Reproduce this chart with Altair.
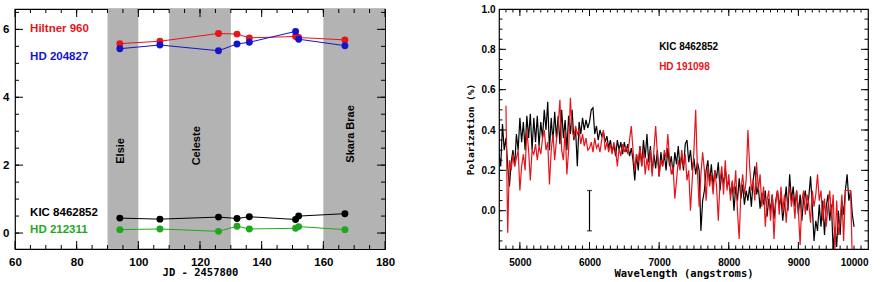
import altair as alt
import numpy as np
import pandas as pd

# ---------------- left panel: polarization monitoring vs. date ----------------
jd = [94, 107, 126, 132, 136, 151, 152, 167]
hiltner960 = [5.58, 5.65, 5.88, 5.86, 5.75, 5.79, 5.76, 5.69]
hd204827 = [5.43, 5.54, 5.37, 5.57, 5.62, 5.94, 5.71, 5.52]
kic8462852 = [0.44, 0.41, 0.47, 0.43, 0.48, 0.40, 0.50, 0.57]
hd212311 = [0.10, 0.12, 0.05, 0.20, 0.12, 0.14, 0.19, 0.10]

star_names = ["Hiltner 960", "HD 204827", "KIC 8462852", "HD 212311"]
star_colors = ["#e8141b", "#1414cc", "#000000", "#1fa81f"]

dip_names = ["Elsie", "Celeste", "Skara Brae"]
dip_start = [90, 110, 160]
dip_end = [100, 130, 180]

# ---------------- right panel: spectropolarimetry ----------------
kic_wave0, kic_step = 4700, 25
kic_pol = [
    0.28, 0.22, 0.43, 0.30, 0.36, 0.22, 0.12, 0.24, 0.30, 0.22, 0.38, 0.30,
    0.46, 0.34, 0.44, 0.30, 0.47, 0.36, 0.48, 0.30, 0.46, 0.34, 0.47, 0.32,
    0.44, 0.36, 0.50, 0.40, 0.54, 0.30, 0.46, 0.34, 0.49, 0.36, 0.47, 0.33,
    0.50, 0.36, 0.45, 0.30, 0.47, 0.38, 0.50, 0.35, 0.40, 0.22, 0.44, 0.38,
    0.46, 0.40, 0.45, 0.41, 0.44, 0.50, 0.51, 0.38, 0.42, 0.35, 0.40, 0.37,
    0.39, 0.34, 0.37, 0.31, 0.35, 0.29, 0.33, 0.27, 0.35, 0.30, 0.34, 0.28,
    0.34, 0.29, 0.33, 0.27, 0.31, 0.25, 0.15, 0.28, 0.20, 0.32, 0.22, 0.35,
    0.26, 0.38, 0.24, 0.32, 0.19, 0.28, 0.21, 0.30, 0.17, 0.29, 0.22, 0.28,
    0.20, 0.31, 0.22, 0.27, 0.18, 0.29, 0.23, 0.32, 0.21, 0.28, 0.20, 0.33,
    0.35, 0.24, 0.30, 0.20, 0.26, 0.18, 0.24, 0.20, -0.10, 0.05, 0.10, 0.20,
    0.25, 0.14, 0.23, 0.12, 0.20, 0.16, 0.24, 0.10, 0.19, 0.13, 0.21, 0.12,
    0.15, 0.08, 0.14, 0.00, 0.12, 0.05, 0.16, 0.06, 0.13, 0.03, 0.10, 0.05,
    0.12, 0.02, 0.15, 0.22, 0.08, 0.12, 0.01, 0.09, 0.03, 0.10, -0.03, 0.06,
    0.00, 0.08, -0.04, 0.05, 0.10, 0.02, 0.07, -0.05, 0.03, 0.12, 0.00, 0.18,
    0.05, 0.12, 0.02, 0.10, -0.02, 0.08, -0.05, 0.06, 0.10, 0.00, 0.07, 0.17,
    0.02, -0.15, -0.05, -0.10, 0.03, -0.08, 0.05, -0.12, 0.02, 0.08, -0.05, 0.03,
    -0.20, -0.08, -0.18, 0.00, -0.12, 0.05, -0.02, 0.10, 0.18, 0.05, 0.10, -0.02,
    -0.08,
]
hd191098_wave0, hd191098_step = 4800, 25
hd191098_pol = [
    0.52, -0.11, 0.25, 0.20, 0.28, 0.22, 0.26, 0.30, 0.10, 0.22, 0.28, 0.20,
    0.40, 0.30, 0.15, 0.30, 0.28, 0.33, 0.25, 0.32, 0.28, 0.36, 0.40, 0.30,
    0.34, 0.13, 0.30, 0.38, 0.25, 0.35, 0.42, 0.55, 0.30, 0.25, 0.40, 0.18,
    0.30, 0.56, 0.40, 0.36, 0.42, 0.38, 0.40, 0.33, 0.38, 0.32, 0.36, 0.30,
    0.31, 0.34, 0.29, 0.36, 0.31, 0.33, 0.29, 0.35, 0.40, 0.30, 0.34, 0.29,
    0.33, 0.28, 0.34, 0.30, 0.22, 0.31, 0.27, 0.33, 0.29, 0.32, 0.28, 0.35,
    0.42, 0.30, 0.20, 0.28, 0.24, 0.32, 0.22, 0.30, 0.18, 0.26, 0.20, 0.30,
    0.17, 0.30, 0.42, 0.28, 0.17, 0.25, 0.22, 0.30, 0.26, 0.38, 0.25, 0.18,
    0.22, 0.06, 0.15, 0.25, 0.20, 0.30, 0.22, 0.28, 0.15, 0.20, 0.00, 0.15,
    0.30, 0.50, 0.20, 0.02, 0.18, 0.29, 0.20, 0.05, 0.22, 0.12, 0.18, 0.08,
    0.20, 0.12, -0.05, 0.15, 0.22, 0.08, 0.25, 0.10, 0.18, 0.05, 0.15, 0.08,
    0.20, 0.00, -0.14, 0.10, 0.18, 0.08, 0.15, 0.40, 0.22, 0.10, 0.15, 0.05,
    0.24, 0.10, 0.18, 0.02, 0.12, -0.08, 0.05, 0.10, -0.05, 0.08, -0.14, 0.04,
    0.10, -0.02, 0.12, 0.00, 0.08, -0.06, 0.06, 0.12, 0.02, 0.08, -0.04, 0.10,
    0.00, -0.17, 0.05, 0.10, -0.02, 0.08, 0.03, -0.06, 0.10, 0.02, 0.08, 0.18,
    0.05, 0.10, -0.05, 0.06, -0.08, 0.02, 0.10, -0.03, 0.08, -0.20, 0.05, -0.12,
    -0.05, 0.08, -0.15, 0.10, 0.10, 0.10, 0.10, -0.25,
]
spec_names = ["KIC 8462852", "HD 191098"]
spec_colors = ["#000000", "#ee1111"]

# typical uncertainty bar
err_wave = [6000]
err_center = [0.0]
err_half = [0.1]

GRAY = "#b3b3b3"
LW, RW, H = 370, 369, 240
X1_DOM, Y1_DOM = [60, 180], [-0.47, 6.6]
# upper limit padded by a hair so the 10000 tick survives float rounding
X2_DOM, Y2_DOM = [4700, 10000.02], [-0.19, 1.0]

xs1 = alt.Scale(domain=X1_DOM, nice=False, zero=False)
ys1 = alt.Scale(domain=Y1_DOM, nice=False, zero=False)
xs2 = alt.Scale(domain=X2_DOM, nice=False, zero=False)
ys2 = alt.Scale(domain=Y2_DOM, nice=False, zero=False)

x1_axis = alt.Axis(values=[60, 80, 100, 120, 140, 160, 180], labelPadding=7, labelFontSize=11.5,
                   title="JD - 2457800", titlePadding=0, labelFlush=False, labelOverlap=False)
y1_axis = alt.Axis(values=[0, 2, 4, 6], labelPadding=6, labelFontSize=11.5, title=None)
x2_axis = alt.Axis(values=[5000, 6000, 7000, 8000, 9000, 10000], labelPadding=8,
                   labelExpr="replace(datum.label, ',', '')",
                   title="Wavelength (angstroms)", titlePadding=1, labelFlush=True,
                   labelOverlap=False, labelBound=False)
y2_axis = alt.Axis(values=[0.0, 0.2, 0.4, 0.6, 0.8, 1.0], format=".1f", labelPadding=4,
                   title="Polarization (%)", titlePadding=6, titleFontSize=9.5)


def inward_ticks(values, chan, length, scale, axis, W):
    """Tick marks drawn inside the frame on both opposite sides."""
    df = pd.DataFrame({"t": values})
    base = alt.Chart(df).mark_rule(color="black", strokeWidth=1)
    if chan == "x":
        enc = alt.X("t:Q", scale=scale, axis=axis)
        a = base.encode(x=enc, y=alt.value(0), y2=alt.value(length))
        b = base.encode(x=enc, y=alt.value(H), y2=alt.value(H - length))
    else:
        enc = alt.Y("t:Q", scale=scale, axis=axis)
        a = base.encode(y=enc, x=alt.value(0), x2=alt.value(length))
        b = base.encode(y=enc, x=alt.value(W), x2=alt.value(W - length))
    return [a, b]


def inside(vals, dom):
    return [v for v in vals if dom[0] < v < dom[1] - 0.5]


# ---------- left chart ----------
rows = []
for name, ys in zip(star_names, [hiltner960, hd204827, kic8462852, hd212311]):
    for t, v in zip(jd, ys):
        rows.append({"jd": t, "pol": v, "star": name})
mon = pd.DataFrame(rows)
cs1 = alt.Scale(domain=star_names, range=star_colors)

X1 = lambda f: alt.X(f, scale=xs1, axis=x1_axis)
Y1 = lambda f: alt.Y(f, scale=ys1, axis=y1_axis)

bands = alt.Chart(pd.DataFrame({"name": dip_names, "start": dip_start, "end": dip_end})).mark_rect(
    color=GRAY
).encode(x=X1("start:Q"), x2="end:Q", y=alt.value(0), y2=alt.value(H))

band_label_pos = pd.DataFrame({"name": dip_names, "x": [94.5, 119, 169], "y": [2.42, 2.57, 2.92]})
band_labels = alt.Chart(band_label_pos).mark_text(
    angle=270, font="Liberation Sans", fontWeight="bold", fontSize=11, color="black"
).encode(x=X1("x:Q"), y=Y1("y:Q"), text="name:N")

mon_lines = alt.Chart(mon).mark_line(strokeWidth=1).encode(
    x=X1("jd:Q"), y=Y1("pol:Q"),
    color=alt.Color("star:N", scale=cs1, legend=None), detail="star:N",
)
mon_pts = alt.Chart(mon).mark_circle(size=48, opacity=1).encode(
    x=X1("jd:Q"), y=Y1("pol:Q"),
    color=alt.Color("star:N", scale=cs1, legend=None),
)

star_label_pos = pd.DataFrame({"star": star_names, "x": [64.9] * 4, "y": [6.0, 5.2, 0.59, 0.08]})
star_labels = alt.Chart(star_label_pos).mark_text(
    align="left", baseline="middle", font="Liberation Sans", fontWeight="bold", fontSize=11.5
).encode(
    x=X1("x:Q"), y=Y1("y:Q"), text="star:N",
    color=alt.Color("star:N", scale=cs1, legend=None),
)

left_layers = [bands, band_labels, mon_lines, mon_pts, star_labels]
left_layers += inward_ticks(list(range(60, 181, 20)), "x", 8, xs1, x1_axis, LW)
left_layers += inward_ticks(inside(list(range(60, 181, 5)), X1_DOM), "x", 4, xs1, x1_axis, LW)
left_layers += inward_ticks([0, 2, 4, 6], "y", 8, ys1, y1_axis, LW)
left_layers += inward_ticks([v for v in np.arange(0, 6.6, 0.5) if v < Y1_DOM[1]], "y", 4, ys1, y1_axis, LW)
left = alt.layer(*left_layers).properties(width=LW, height=H)

# ---------- right chart ----------
spec_rows = []
for i, v in enumerate(kic_pol):
    spec_rows.append({"wave": kic_wave0 + i * kic_step, "pol": v, "star": spec_names[0]})
for i, v in enumerate(hd191098_pol):
    spec_rows.append({"wave": hd191098_wave0 + i * hd191098_step, "pol": v, "star": spec_names[1]})
spec = pd.DataFrame(spec_rows)
cs2 = alt.Scale(domain=spec_names, range=spec_colors)

X2 = lambda f: alt.X(f, scale=xs2, axis=x2_axis)
Y2 = lambda f: alt.Y(f, scale=ys2, axis=y2_axis)

spec_lines = alt.Chart(spec).mark_line(strokeWidth=1.2, clip=True).encode(
    x=X2("wave:Q"), y=Y2("pol:Q"),
    color=alt.Color("star:N", scale=cs2, legend=None),
    detail="star:N", order=alt.Order("wave:Q"),
)

err_df = pd.DataFrame({"wave": err_wave, "lo": [c - h for c, h in zip(err_center, err_half)],
                       "hi": [c + h for c, h in zip(err_center, err_half)]})
err_bar = alt.Chart(err_df).mark_rule(color="black", strokeWidth=1.2).encode(
    x=X2("wave:Q"), y=Y2("lo:Q"), y2="hi:Q",
)
err_caps = alt.Chart(err_df).transform_fold(["lo", "hi"], as_=["k", "v"]).mark_tick(
    orient="horizontal", size=5, thickness=1.2, color="black"
).encode(x=X2("wave:Q"), y=Y2("v:Q"))

spec_label_pos = pd.DataFrame({"star": spec_names, "x": [7000, 7000], "y": [0.81, 0.71]})
spec_labels = alt.Chart(spec_label_pos).mark_text(
    align="left", baseline="middle", font="Liberation Sans", fontWeight="bold", fontSize=10
).encode(
    x=X2("x:Q"), y=Y2("y:Q"), text="star:N",
    color=alt.Color("star:N", scale=cs2, legend=None),
)

right_layers = [spec_lines, err_bar, err_caps, spec_labels]
right_layers += inward_ticks([5000, 6000, 7000, 8000, 9000], "x", 7, xs2, x2_axis, RW)
right_layers += inward_ticks(inside(list(range(4700, 10001, 100)), X2_DOM), "x", 3.5, xs2, x2_axis, RW)
right_layers += inward_ticks([0.0, 0.2, 0.4, 0.6, 0.8], "y", 7, ys2, y2_axis, RW)
right_layers += inward_ticks([round(v, 2) for v in np.arange(-0.15, 0.99, 0.05)],
                             "y", 3.5, ys2, y2_axis, RW)
right = alt.layer(*right_layers).properties(width=RW, height=H)

chart = alt.hconcat(left, right, spacing=68).properties(
    padding={"left": 2, "top": 3, "right": 0, "bottom": 0}
).configure_axis(
    domain=False, ticks=False, grid=False,
    labelFont="Liberation Sans", labelFontWeight="bold", labelFontSize=10, labelColor="black",
    titleFont="DejaVu Sans Mono", titleFontWeight="bold", titleFontSize=10.5, titleColor="black",
).configure_view(stroke="black", strokeWidth=1.2)

chart.save("out.html", embed_options={"renderer": "svg", "actions": False})
